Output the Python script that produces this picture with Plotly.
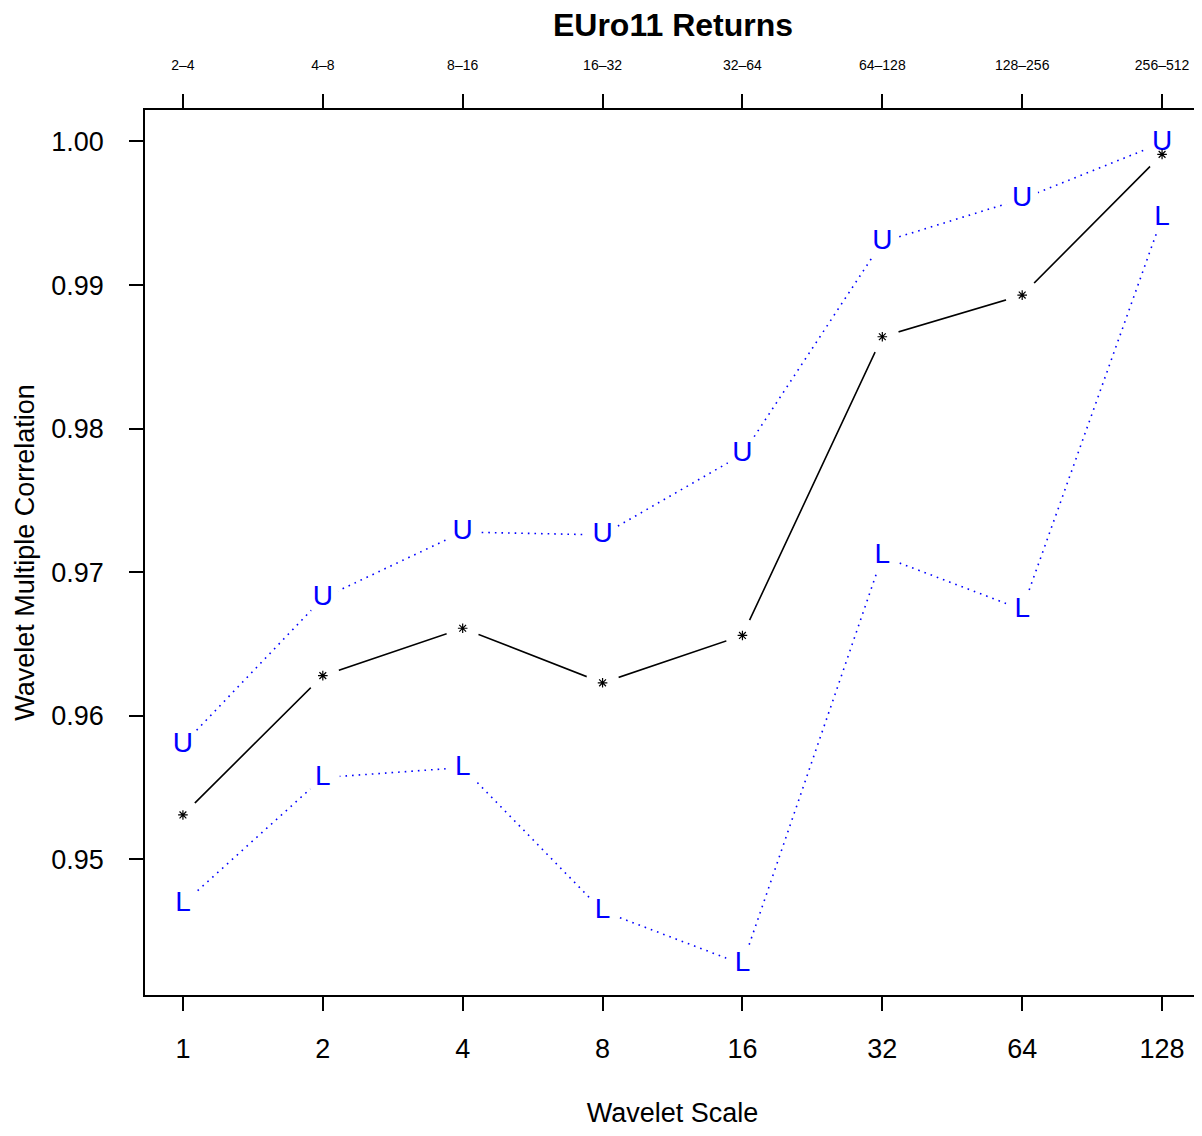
import plotly.graph_objects as go

scales = [1, 2, 4, 8, 16, 32, 64, 128]
scale_labels = ["1", "2", "4", "8", "16", "32", "64", "128"]
period_labels = ["2\u20134", "4\u20138", "8\u201316", "16\u201332", "32\u201364", "64\u2013128", "128\u2013256", "256\u2013512"]
wmc = [0.9531, 0.9628, 0.9661, 0.9623, 0.9656, 0.9864, 0.9893, 0.9991]
upper = [0.9580, 0.9682, 0.9728, 0.9726, 0.9782, 0.9930, 0.9960, 0.9999]
lower = [0.9469, 0.9557, 0.9564, 0.9464, 0.9427, 0.9711, 0.9674, 0.9947]
yticks = [0.95, 0.96, 0.97, 0.98, 0.99, 1.00]

FONT = "Liberation Sans, Arial, Helvetica, sans-serif"
BLUE = "#0000FF"

# the page body has an 8px margin; the figure is sized to fit the window without scrollbars
W, H = 1194, 1120

fig = go.Figure()
# connecting lines
fig.add_trace(go.Scatter(x=scales, y=upper, mode="lines",
                         line=dict(color=BLUE, width=1.6, dash="1.6px,5px"), hoverinfo="skip"))
fig.add_trace(go.Scatter(x=scales, y=lower, mode="lines",
                         line=dict(color=BLUE, width=1.6, dash="1.6px,5px"), hoverinfo="skip"))
fig.add_trace(go.Scatter(x=scales, y=wmc, mode="lines",
                         line=dict(color="black", width=1.6), hoverinfo="skip"))
# gaps around points (like R type="b")
for ys in (upper, lower, wmc):
    fig.add_trace(go.Scatter(x=scales, y=ys, mode="markers",
                             marker=dict(symbol="circle", size=34, color="white", line=dict(width=0)),
                             hoverinfo="skip"))
# point symbols
fig.add_trace(go.Scatter(x=scales, y=upper, mode="text", text=["U"] * len(scales),
                         textposition="middle center",
                         textfont=dict(family=FONT, size=28, color=BLUE)))
fig.add_trace(go.Scatter(x=scales, y=lower, mode="text", text=["L"] * len(scales),
                         textposition="middle center",
                         textfont=dict(family=FONT, size=28, color=BLUE)))
fig.add_trace(go.Scatter(x=scales, y=wmc, mode="markers",
                         marker=dict(symbol="asterisk-open", size=8, color="black",
                                     line=dict(color="black", width=1.2))))
# dummy trace for top axis
fig.add_trace(go.Scatter(x=scales, y=wmc, xaxis="x2", mode="markers",
                         marker=dict(opacity=0), hoverinfo="skip"))

xr = [-0.08163, 2.18884]
yr = [0.94056, 1.00219]

fig.update_layout(
    width=W, height=H,
    margin=dict(l=137, r=0, t=102, b=132),
    paper_bgcolor="white", plot_bgcolor="white",
    showlegend=False,
    font=dict(family=FONT, color="black"),
    title=dict(text="EUro11 Returns", x=665 / W, xanchor="center", y=1 - 17 / H, yanchor="middle",
               font=dict(family=FONT, size=32, color="black", weight="bold")),
    xaxis=dict(type="log", range=xr, tickvals=scales, ticktext=scale_labels,
               ticks="outside", ticklen=14, tickwidth=1.5, tickcolor="black",
               showline=True, linewidth=1.5, linecolor="black", mirror=False,
               showgrid=False, zeroline=False,
               tickfont=dict(family=FONT, size=27, color="black"), ticklabelstandoff=15,
               title=dict(text="Wavelet Scale", font=dict(family=FONT, size=27, color="black"), standoff=45)),
    xaxis2=dict(type="log", range=xr, overlaying="x", side="top", anchor="y",
                tickvals=scales, ticktext=period_labels,
                ticks="outside", ticklen=14, tickwidth=1.5, tickcolor="black",
                showline=True, linewidth=1.5, linecolor="black",
                showgrid=False, zeroline=False,
                tickfont=dict(family=FONT, size=14, color="black"), ticklabelstandoff=19),
    yaxis=dict(range=yr, tickvals=yticks, ticktext=[f"{v:.2f}" for v in yticks],
               ticks="outside", ticklen=14, tickwidth=1.5, tickcolor="black",
               showline=True, linewidth=1.5, linecolor="black", mirror=True,
               showgrid=False, zeroline=False,
               tickfont=dict(family=FONT, size=27, color="black"), ticklabelstandoff=20,
               title=dict(text="Wavelet Multiple Correlation", font=dict(family=FONT, size=27, color="black"),
                          standoff=9)),
)

fig.write_html("out.html")
